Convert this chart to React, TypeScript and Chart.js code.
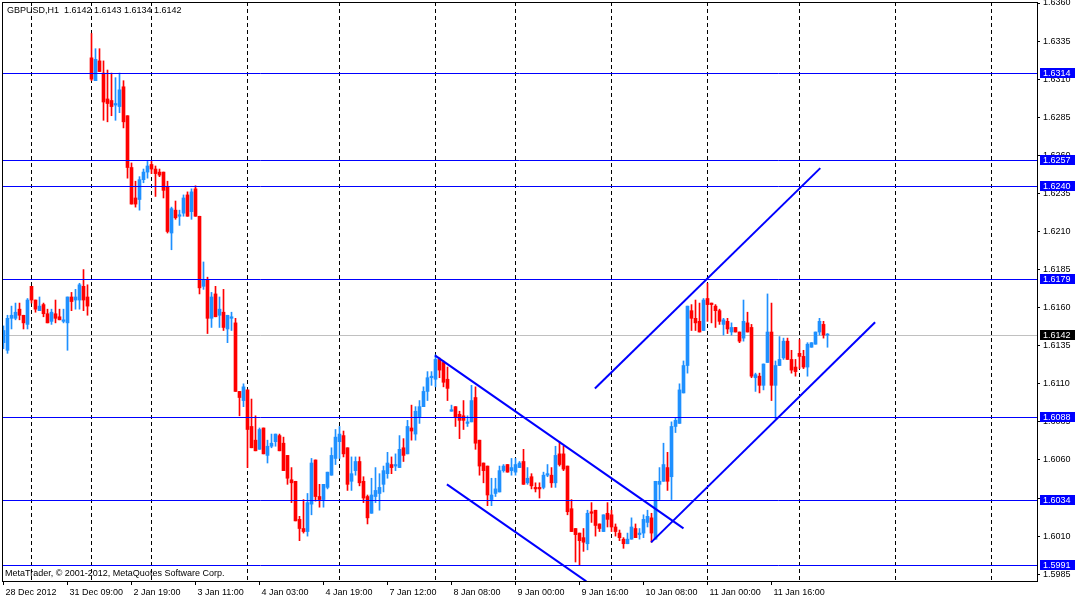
import { useEffect, useRef } from "react";
import { Chart, registerables } from "chart.js";

Chart.register(...registerables);

// ---- data (GBPUSD H1, bar index 0..206) ----
const opens = [
  1.6137,1.6132,1.6153,1.6153,1.6159,1.6155,1.6149,1.6174,1.6165,1.6158,
  1.6162,1.6156,1.6151,1.6156,1.6154,1.6151,1.6150,1.6167,1.6165,1.6165,
  1.6174,1.6167,1.6324,1.6309,1.6322,1.6314,1.6297,1.6296,1.6293,1.6292,
  1.6305,1.6286,1.6252,1.6232,1.6231,1.6244,1.6249,1.6254,1.6251,1.6249,
  1.6249,1.6239,1.6209,1.6224,1.6220,1.6222,1.6234,1.6223,1.6238,1.6220,
  1.6174,1.6178,1.6153,1.6169,1.6155,1.6157,1.6146,1.6153,1.6150,1.6105,
  1.6099,1.6106,1.6082,1.6073,1.6067,1.6081,1.6063,1.6069,1.6072,1.6076,
  1.6071,1.6063,1.6047,1.6046,1.6021,1.6015,1.6013,1.6031,1.6060,1.6036,
  1.6034,1.6042,1.6050,1.6061,1.6072,1.6076,1.6068,1.6046,1.6053,1.6059,
  1.6046,1.6036,1.6025,1.6036,1.6038,1.6044,1.6051,1.6057,1.6056,1.6055,
  1.6068,1.6064,1.6081,1.6077,1.6088,1.6095,1.6105,1.6114,1.6113,1.6126,
  1.6124,1.6113,1.6092,1.6095,1.6090,1.6089,1.6084,1.6085,1.6101,1.6073,
  1.6058,1.6056,1.6034,1.6038,1.6039,1.6053,1.6057,1.6053,1.6052,1.6055,
  1.6059,1.6045,1.6049,1.6042,1.6042,1.6042,1.6050,1.6050,1.6045,1.6064,
  1.6064,1.6056,1.6028,1.6015,1.6012,1.6009,1.6005,1.6026,1.6027,1.6018,
  1.6013,1.6025,1.6024,1.6016,1.6012,1.6008,1.6005,1.6008,1.6015,1.6011,
  1.6012,1.6019,1.6022,1.6008,1.6044,1.6046,1.6055,1.6049,1.6082,1.6084,
  1.6104,1.6122,1.6158,1.6153,1.6151,1.6145,1.6166,1.6163,1.6161,1.6158,
  1.6149,1.6151,1.6144,1.6147,1.6144,1.6140,1.6150,1.6147,1.6114,1.6115,
  1.6109,1.6124,1.6144,1.6109,1.6122,1.6127,1.6138,1.6126,1.6121,1.6130,
  1.6128,1.6121,1.6134,1.6136,1.6144,1.6149,1.6142,
];
const highs = [
  1.6148,1.6155,1.6161,1.6163,1.6163,1.6155,1.6166,1.6174,1.6165,1.6167,
  1.6163,1.6159,1.6159,1.6165,1.6159,1.6159,1.6167,1.6170,1.6172,1.6176,
  1.6185,1.6175,1.6340,1.6330,1.6330,1.6322,1.6316,1.6314,1.6311,1.6314,
  1.6309,1.6286,1.6255,1.6243,1.6246,1.6251,1.6256,1.6256,1.6253,1.6251,
  1.6249,1.6243,1.6226,1.6230,1.6224,1.6234,1.6236,1.6238,1.6240,1.6220,
  1.6190,1.6180,1.6170,1.6174,1.6167,1.6172,1.6155,1.6157,1.6153,1.6105,
  1.6110,1.6106,1.6100,1.6089,1.6081,1.6081,1.6073,1.6077,1.6077,1.6077,
  1.6075,1.6063,1.6055,1.6046,1.6023,1.6034,1.6038,1.6061,1.6060,1.6044,
  1.6044,1.6052,1.6068,1.6080,1.6082,1.6079,1.6068,1.6062,1.6062,1.6062,
  1.6049,1.6037,1.6048,1.6055,1.6051,1.6056,1.6065,1.6062,1.6064,1.6076,
  1.6074,1.6086,1.6096,1.6095,1.6099,1.6108,1.6118,1.6118,1.6129,1.6127,
  1.6125,1.6121,1.6096,1.6095,1.6092,1.6099,1.6089,1.6109,1.6108,1.6073,
  1.6058,1.6056,1.6048,1.6048,1.6056,1.6057,1.6057,1.6061,1.6061,1.6059,
  1.6067,1.6055,1.6051,1.6045,1.6045,1.6052,1.6057,1.6055,1.6069,1.6072,
  1.6069,1.6056,1.6034,1.6015,1.6012,1.6015,1.6027,1.6032,1.6027,1.6018,
  1.6024,1.6032,1.6027,1.6018,1.6014,1.6009,1.6012,1.6022,1.6018,1.6015,
  1.6024,1.6027,1.6025,1.6046,1.6055,1.6071,1.6065,1.6085,1.6088,1.6110,
  1.6125,1.6161,1.6162,1.6165,1.6163,1.6166,1.6176,1.6163,1.6162,1.6159,
  1.6153,1.6153,1.6150,1.6147,1.6144,1.6165,1.6157,1.6149,1.6117,1.6117,
  1.6123,1.6169,1.6163,1.6125,1.6141,1.6140,1.6140,1.6132,1.6126,1.6139,
  1.6132,1.6137,1.6137,1.6144,1.6153,1.6151,1.6143,
];
const lows = [
  1.6133,1.6130,1.6146,1.6152,1.6152,1.6146,1.6146,1.6163,1.6157,1.6158,
  1.6154,1.6150,1.6149,1.6150,1.6152,1.6150,1.6132,1.6158,1.6159,1.6159,
  1.6158,1.6155,1.6309,1.6309,1.6315,1.6283,1.6282,1.6286,1.6283,1.6288,
  1.6278,1.6245,1.6228,1.6226,1.6224,1.6242,1.6245,1.6248,1.6233,1.6246,
  1.6232,1.6209,1.6198,1.6218,1.6214,1.6220,1.6220,1.6218,1.6220,1.6169,
  1.6172,1.6143,1.6147,1.6154,1.6147,1.6145,1.6137,1.6145,1.6105,1.6089,
  1.6095,1.6055,1.6068,1.6066,1.6067,1.6064,1.6058,1.6068,1.6069,1.6066,
  1.6053,1.6044,1.6032,1.6020,1.6007,1.6012,1.6010,1.6024,1.6033,1.6029,
  1.6029,1.6041,1.6050,1.6057,1.6061,1.6062,1.6040,1.6040,1.6050,1.6043,
  1.6032,1.6018,1.6025,1.6032,1.6027,1.6039,1.6048,1.6051,1.6053,1.6055,
  1.6059,1.6064,1.6073,1.6073,1.6084,1.6095,1.6099,1.6109,1.6108,1.6114,
  1.6108,1.6099,1.6092,1.6082,1.6074,1.6080,1.6082,1.6085,1.6067,1.6050,
  1.6045,1.6030,1.6030,1.6036,1.6039,1.6052,1.6052,1.6050,1.6050,1.6055,
  1.6044,1.6044,1.6041,1.6039,1.6035,1.6041,1.6049,1.6042,1.6042,1.6056,
  1.6053,1.6024,1.6013,1.5993,1.5991,1.6000,1.6001,1.6019,1.6010,1.6013,
  1.6013,1.6016,1.6013,1.6010,1.6007,1.6002,1.6005,1.6008,1.6009,1.6008,
  1.6009,1.6016,1.6006,1.6008,1.6034,1.6046,1.6040,1.6034,1.6078,1.6084,
  1.6104,1.6117,1.6145,1.6145,1.6144,1.6145,1.6151,1.6150,1.6147,1.6149,
  1.6142,1.6143,1.6142,1.6144,1.6137,1.6138,1.6144,1.6114,1.6105,1.6104,
  1.6106,1.6124,1.6099,1.6087,1.6122,1.6126,1.6126,1.6117,1.6115,1.6120,
  1.6120,1.6115,1.6134,1.6136,1.6142,1.6140,1.6134,
];
const closes = [
  1.6145,1.6153,1.6155,1.6157,1.6155,1.6150,1.6165,1.6165,1.6159,1.6161,
  1.6156,1.6150,1.6157,1.6153,1.6152,1.6152,1.6167,1.6164,1.6167,1.6175,
  1.6165,1.6161,1.6310,1.6323,1.6315,1.6295,1.6294,1.6292,1.6294,1.6303,
  1.6282,1.6252,1.6228,1.6228,1.6244,1.6249,1.6253,1.6251,1.6248,1.6247,
  1.6237,1.6210,1.6225,1.6219,1.6221,1.6232,1.6220,1.6236,1.6220,1.6173,
  1.6178,1.6153,1.6167,1.6154,1.6159,1.6147,1.6155,1.6154,1.6105,1.6101,
  1.6108,1.6080,1.6068,1.6066,1.6080,1.6064,1.6069,1.6071,1.6077,1.6066,
  1.6053,1.6048,1.6045,1.6020,1.6015,1.6013,1.6032,1.6058,1.6036,1.6034,
  1.6044,1.6052,1.6063,1.6075,1.6077,1.6064,1.6044,1.6051,1.6059,1.6045,
  1.6035,1.6022,1.6037,1.6040,1.6042,1.6053,1.6058,1.6055,1.6057,1.6067,
  1.6063,1.6082,1.6079,1.6092,1.6095,1.6105,1.6114,1.6115,1.6126,1.6119,
  1.6111,1.6107,1.6093,1.6088,1.6086,1.6086,1.6085,1.6099,1.6071,1.6056,
  1.6053,1.6037,1.6037,1.6041,1.6053,1.6056,1.6052,1.6055,1.6057,1.6058,
  1.6044,1.6048,1.6043,1.6041,1.6041,1.6050,1.6051,1.6045,1.6063,1.6057,
  1.6054,1.6026,1.6013,1.6011,1.6007,1.6006,1.6025,1.6025,1.6017,1.6015,
  1.6024,1.6021,1.6016,1.6013,1.6009,1.6005,1.6008,1.6016,1.6009,1.6012,
  1.6021,1.6023,1.6012,1.6046,1.6046,1.6057,1.6046,1.6082,1.6086,1.6106,
  1.6122,1.6161,1.6153,1.6150,1.6144,1.6165,1.6162,1.6162,1.6158,1.6151,
  1.6152,1.6146,1.6147,1.6144,1.6138,1.6151,1.6144,1.6115,1.6116,1.6109,
  1.6123,1.6144,1.6109,1.6122,1.6126,1.6138,1.6126,1.6119,1.6118,1.6128,
  1.6121,1.6136,1.6137,1.6144,1.6151,1.6142,1.6142,
];

const xTickBars = [0, 16, 32, 48, 64, 80, 96, 112, 128, 144, 160, 176, 192];
const xTickLabels = [
  "28 Dec 2012", "31 Dec 09:00", "2 Jan 19:00", "3 Jan 11:00", "4 Jan 03:00",
  "4 Jan 19:00", "7 Jan 12:00", "8 Jan 08:00", "9 Jan 00:00", "9 Jan 16:00",
  "10 Jan 08:00", "11 Jan 00:00", "11 Jan 16:00",
];
const yTickValues = [
  1.5985, 1.601, 1.6035, 1.606, 1.6085, 1.611, 1.6135, 1.616,
  1.6185, 1.621, 1.6235, 1.626, 1.6285, 1.631, 1.6335, 1.636,
];
const daySeparators = [7, 22, 37, 61, 84, 108, 128, 152, 176, 199, 223, 247];
const levelPrices = [1.6314, 1.6257, 1.624, 1.6179, 1.6088, 1.6034, 1.5991];
const bidPrice = 1.6142;

// trend lines: start bar, start price, end bar, end price
const trendStartBar = [107.85, 110.85, 147.85, 161.9];
const trendStartPrice = [1.61287, 1.6044, 1.61069, 1.60059];
const trendEndBar = [170, 145.7, 204.2, 217.9];
const trendEndPrice = [1.60151, 1.59803, 1.62516, 1.61504];

const symbol = "GBPUSD,H1";
const copyright = "MetaTrader, \u00A9 2001-2012, MetaQuotes Software Corp.";

const FONT = '"Liberation Sans", Arial, sans-serif';
const UP = "#1E90FF";
const DOWN = "#FF0000";
const LEVEL = "#0000FF";

export default function App() {
  const ref = useRef<HTMLCanvasElement | null>(null);

  useEffect(() => {
    document.body.style.margin = "0";
    const canvas = ref.current;
    if (!canvas) return;
    const colors = opens.map((o, i) => (closes[i] >= o ? UP : DOWN));
    const last = opens.length - 1;

    const overlay = {
      id: "mtOverlay",
      beforeDraw(chart: any) {
        const { ctx } = chart;
        ctx.save();
        ctx.fillStyle = "#fff";
        ctx.fillRect(0, 0, chart.width, chart.height);
        ctx.restore();
      },
      beforeDatasetsDraw(chart: any) {
        const { ctx, chartArea: a, scales } = chart;
        ctx.save();
        ctx.strokeStyle = "#000";
        ctx.lineWidth = 1;
        ctx.setLineDash([4, 3]);
        daySeparators.forEach((b) => {
          const x = Math.round(scales.x.getPixelForValue(b) - 0.5) + 0.5;
          if (x < a.left || x > a.right) return;
          ctx.beginPath();
          ctx.moveTo(x, a.top);
          ctx.lineTo(x, a.bottom);
          ctx.stroke();
        });
        ctx.setLineDash([]);
        const yb = Math.round(scales.y.getPixelForValue(bidPrice)) + 0.5;
        ctx.strokeStyle = "#C0C0C0";
        ctx.beginPath();
        ctx.moveTo(a.left, yb);
        ctx.lineTo(a.right, yb);
        ctx.stroke();
        ctx.restore();
      },
      afterDatasetsDraw(chart: any) {
        const { ctx, chartArea: a, scales } = chart;
        ctx.save();
        ctx.strokeStyle = LEVEL;
        ctx.lineWidth = 1;
        levelPrices.forEach((p) => {
          const y = Math.round(scales.y.getPixelForValue(p)) + 0.5;
          ctx.beginPath();
          ctx.moveTo(a.left, y);
          ctx.lineTo(a.right, y);
          ctx.stroke();
        });
        ctx.fillStyle = "#000";
        ctx.font = `9px ${FONT}`;
        ctx.textBaseline = "middle";
        ctx.textAlign = "left";
        ctx.fillText(
          `${symbol}  ${opens[last].toFixed(4)} ${highs[last].toFixed(4)} ${lows[last].toFixed(4)} ${closes[last].toFixed(4)}`,
          a.left + 5, a.top + 9
        );
        ctx.fillText(copyright, a.left + 3, a.bottom - 7);
        ctx.restore();
      },
      afterDraw(chart: any) {
        const { ctx, chartArea: a, scales } = chart;
        ctx.save();
        ctx.strokeStyle = "#000";
        ctx.lineWidth = 1;
        ctx.strokeRect(a.left + 0.5, a.top + 0.5, a.right - a.left, a.bottom - a.top);
        ctx.font = `9px ${FONT}`;
        ctx.textBaseline = "middle";
        ctx.textAlign = "left";
        const box = (p: number, bg: string) => {
          const y = Math.round(scales.y.getPixelForValue(p));
          ctx.fillStyle = bg;
          ctx.fillRect(a.right + 3, y - 5, chart.width - a.right - 3, 10);
          ctx.fillStyle = "#fff";
          ctx.fillText(p.toFixed(4), a.right + 6, y + 0.5);
        };
        levelPrices.forEach((p) => box(p, LEVEL));
        box(bidPrice, "#000");
        ctx.restore();
      },
    };

    const trendSets = trendStartBar.map((sb, i) => ({
      type: "line" as const,
      data: [
        { x: sb, y: trendStartPrice[i] },
        { x: trendEndBar[i], y: trendEndPrice[i] },
      ],
      borderColor: LEVEL,
      borderWidth: 2,
      pointRadius: 0,
      tension: 0,
      fill: false,
      order: 0,
    }));

    const chart = new Chart(canvas, {
      type: "bar",
      data: {
        datasets: [
          {
            type: "bar",
            data: opens.map((_, i) => ({ x: i, y: [lows[i], highs[i]] })) as any,
            backgroundColor: colors,
            barThickness: 1,
            grouped: false,
            order: 3,
          },
          {
            type: "bar",
            data: opens.map((o, i) => ({ x: i, y: [o, closes[i]] })) as any,
            backgroundColor: colors,
            barThickness: 3,
            minBarLength: 1,
            grouped: false,
            order: 2,
          },
          ...(trendSets as any[]),
        ],
      },
      options: {
        animation: false,
        responsive: false,
        devicePixelRatio: 1,
        layout: { padding: { left: 2, top: 2, right: 0, bottom: 0 } },
        plugins: { legend: { display: false }, tooltip: { enabled: false } },
        events: [],
        scales: {
          x: {
            type: "linear",
            position: "bottom",
            min: -0.375,
            max: 258.375,
            offset: false,
            afterBuildTicks: (s: any) => {
              s.ticks = xTickBars.map((v) => ({ value: v }));
            },
            afterFit: (s: any) => {
              s.height = 18;
              s.paddingLeft = 0;
              s.paddingRight = 0;
            },
            ticks: {
              autoSkip: false,
              maxRotation: 0,
              minRotation: 0,
              align: "start",
              labelOffset: 2,
              padding: 2,
              color: "#000",
              font: { family: FONT, size: 9 },
              callback: (_v: any, i: number) => xTickLabels[i] ?? "",
            },
            grid: {
              drawOnChartArea: false,
              drawTicks: true,
              tickLength: 4,
              color: "#000",
              offset: false,
            },
            border: { display: true, color: "#000" },
          },
          y: {
            type: "linear",
            position: "right",
            min: 1.598054,
            max: 1.636066,
            afterBuildTicks: (s: any) => {
              s.ticks = yTickValues.map((v) => ({ value: v }));
            },
            afterFit: (s: any) => {
              s.width = 38;
              s.paddingTop = 0;
              s.paddingBottom = 0;
            },
            ticks: {
              autoSkip: false,
              padding: 3,
              color: "#000",
              font: { family: FONT, size: 9 },
              callback: (v: any) => Number(v).toFixed(4),
            },
            grid: {
              drawOnChartArea: false,
              drawTicks: true,
              tickLength: 3,
              color: "#000",
            },
            border: { display: true, color: "#000" },
          },
        },
      } as any,
      plugins: [overlay],
    });

    return () => chart.destroy();
  }, []);

  return (
    <div style={{ position: "absolute", left: 0, top: 0, width: 1075, height: 599 }}>
      <canvas ref={ref} width={1075} height={599} style={{ display: "block", width: 1075, height: 599 }} />
    </div>
  );
}
